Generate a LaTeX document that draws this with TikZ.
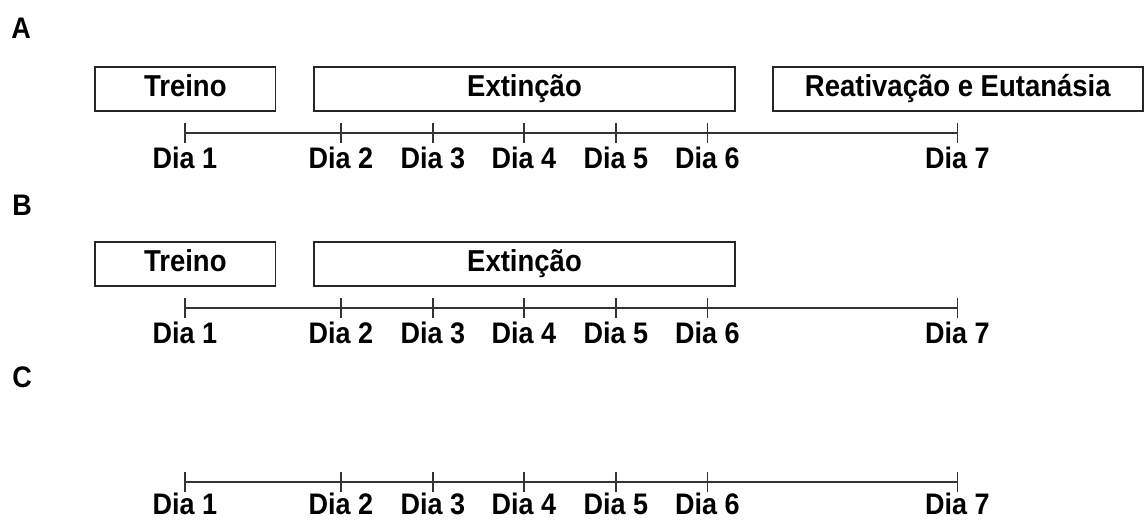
\documentclass[tikz,border=0pt]{standalone}
\usepackage{fontspec}
\usepackage{graphicx}
\setmainfont{Liberation Sans}
\newcommand{\vtxt}[1]{\scalebox{1}[1.1]{#1}}
\begin{document}
\begin{tikzpicture}[x=1pt,y=-1pt,
  lbl/.style={font=\fontsize{27}{30}\selectfont\bfseries, anchor=base},
  panel/.style={font=\fontsize{27}{30}\selectfont\bfseries, anchor=center},
  phase/.style={draw=black!85, line width=1.7pt, inner sep=0pt, minimum height=44pt,
     text height=21pt, text depth=6pt, font=\fontsize{27.5}{30}\selectfont\bfseries},
  axis/.style={draw=black!80, line width=1.7pt}]
\useasboundingbox (0,0) rectangle (1145,519);
% panel letters
\node[panel] (pA) at (21,28) {\vtxt{A}};
\node[panel] (pB) at (22,205.5) {\vtxt{B}};
\node[panel] (pC) at (22,377) {\vtxt{C}};
% timelines
\foreach \p/\y/\off in {A/133/35.5,B/308/35.5,C/482/32.5}{
  \foreach \i/\x in {1/185,2/341,3/433,4/524,5/616,6/707.5,7/957.5}{
    \coordinate (t\p\i) at (\x,\y);
    \coordinate (t\p\i u) at (\x,\y-10);
    \coordinate (t\p\i d) at (\x,\y+10);
    \draw[axis] (t\p\i u) -- (t\p\i d);
    \node[lbl] (l\p\i) at (\x,\y+\off) {\vtxt{Dia \i}};
  }
  \draw[axis] (t\p1) -- (t\p7);
}
% phase boxes A
\node[phase, minimum width=180.5pt] (trA) at (185.3,88.8) {\vtxt{Treino}};
\node[phase, minimum width=421pt] (exA) at (524.5,88.8) {\vtxt{Extinção}};
\node[phase, minimum width=370pt] (reA) at (957.8,88.8) {\vtxt{Reativação e Eutanásia}};
% phase boxes B
\node[phase, minimum width=180.5pt] (trB) at (185.3,263.7) {\vtxt{Treino}};
\node[phase, minimum width=421pt] (exB) at (524.5,263.7) {\vtxt{Extinção}};
\end{tikzpicture}
\end{document}
